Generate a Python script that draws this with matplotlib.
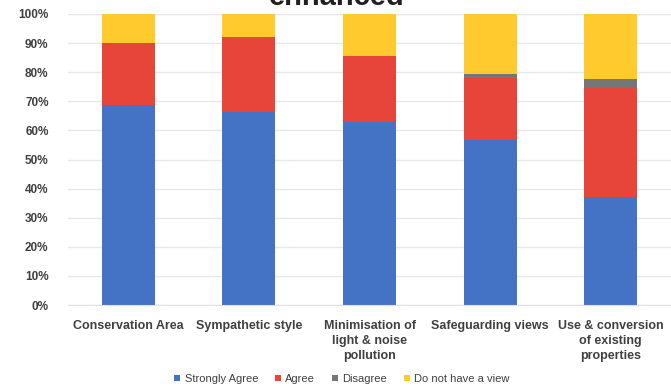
import matplotlib

matplotlib.use("Agg")

import matplotlib.pyplot as plt
import numpy as np

plt.rcParams["font.family"] = ["Liberation Sans", "DejaVu Sans"]

categories = [
    "Conservation Area",
    "Sympathetic style",
    "Minimisation of\nlight & noise\npollution",
    "Safeguarding views",
    "Use & conversion\nof existing\nproperties",
]
strongly_agree = [68.7, 66.3, 62.9, 56.7, 37.1]
agree = [21.3, 25.7, 22.7, 21.3, 37.5]
disagree = [0.0, 0.0, 0.0, 1.4, 3.1]
no_view = [10.0, 8.0, 14.4, 20.6, 22.3]

series = [
    ("Strongly Agree", strongly_agree, "#4472C4"),
    ("Agree", agree, "#E8453A"),
    ("Disagree", disagree, "#767676"),
    ("Do not have a view", no_view, "#FECA2E"),
]

fig = plt.figure(figsize=(6.71, 3.87), dpi=100)
ax = fig.add_axes([68 / 671, 1 - 305 / 387, 603 / 671, 291 / 387])

x = np.arange(len(categories))
bottom = np.zeros(len(categories))
for name, vals, color in series:
    vals = np.array(vals)
    ax.bar(x, vals, width=0.44, bottom=bottom, color=color, label=name, zorder=2)
    bottom += vals

ax.set_xlim(-0.5, len(categories) - 0.5)
ax.set_ylim(0, 100)
ax.set_yticks(np.arange(0, 101, 10))
ax.set_yticklabels([f"{v}%" for v in range(0, 101, 10)])
ax.set_xticks(x)
ax.set_xticklabels(categories, linespacing=1.32, va="top")
ax.grid(axis="y", color="#e8e8e8", linewidth=1, zorder=0)
ax.tick_params(axis="both", length=0, labelcolor="#404040")
ax.tick_params(axis="y", pad=14, labelsize=8.5)
ax.tick_params(axis="x", pad=11, labelsize=9)
for lbl in ax.get_xticklabels() + ax.get_yticklabels():
    lbl.set_fontweight("bold")
for side in ["top", "right", "left"]:
    ax.spines[side].set_visible(False)
ax.spines["bottom"].set_color("#e0e0e0")

# Title sits mostly above the top edge; only its lower part shows
fig.text(337 / 671, 1 - 5 / 387, "enhanced", ha="center", va="baseline",
         fontsize=21, fontweight="bold", color="#202020")

fig.legend(loc="center", bbox_to_anchor=(342 / 671, 1 - 379 / 387), ncol=4,
           frameon=False, fontsize=8, handlelength=0.55, handleheight=0.55,
           handletextpad=0.4, columnspacing=1.5, labelcolor="#404040")

fig.savefig("out.png", dpi=100, facecolor="white")
